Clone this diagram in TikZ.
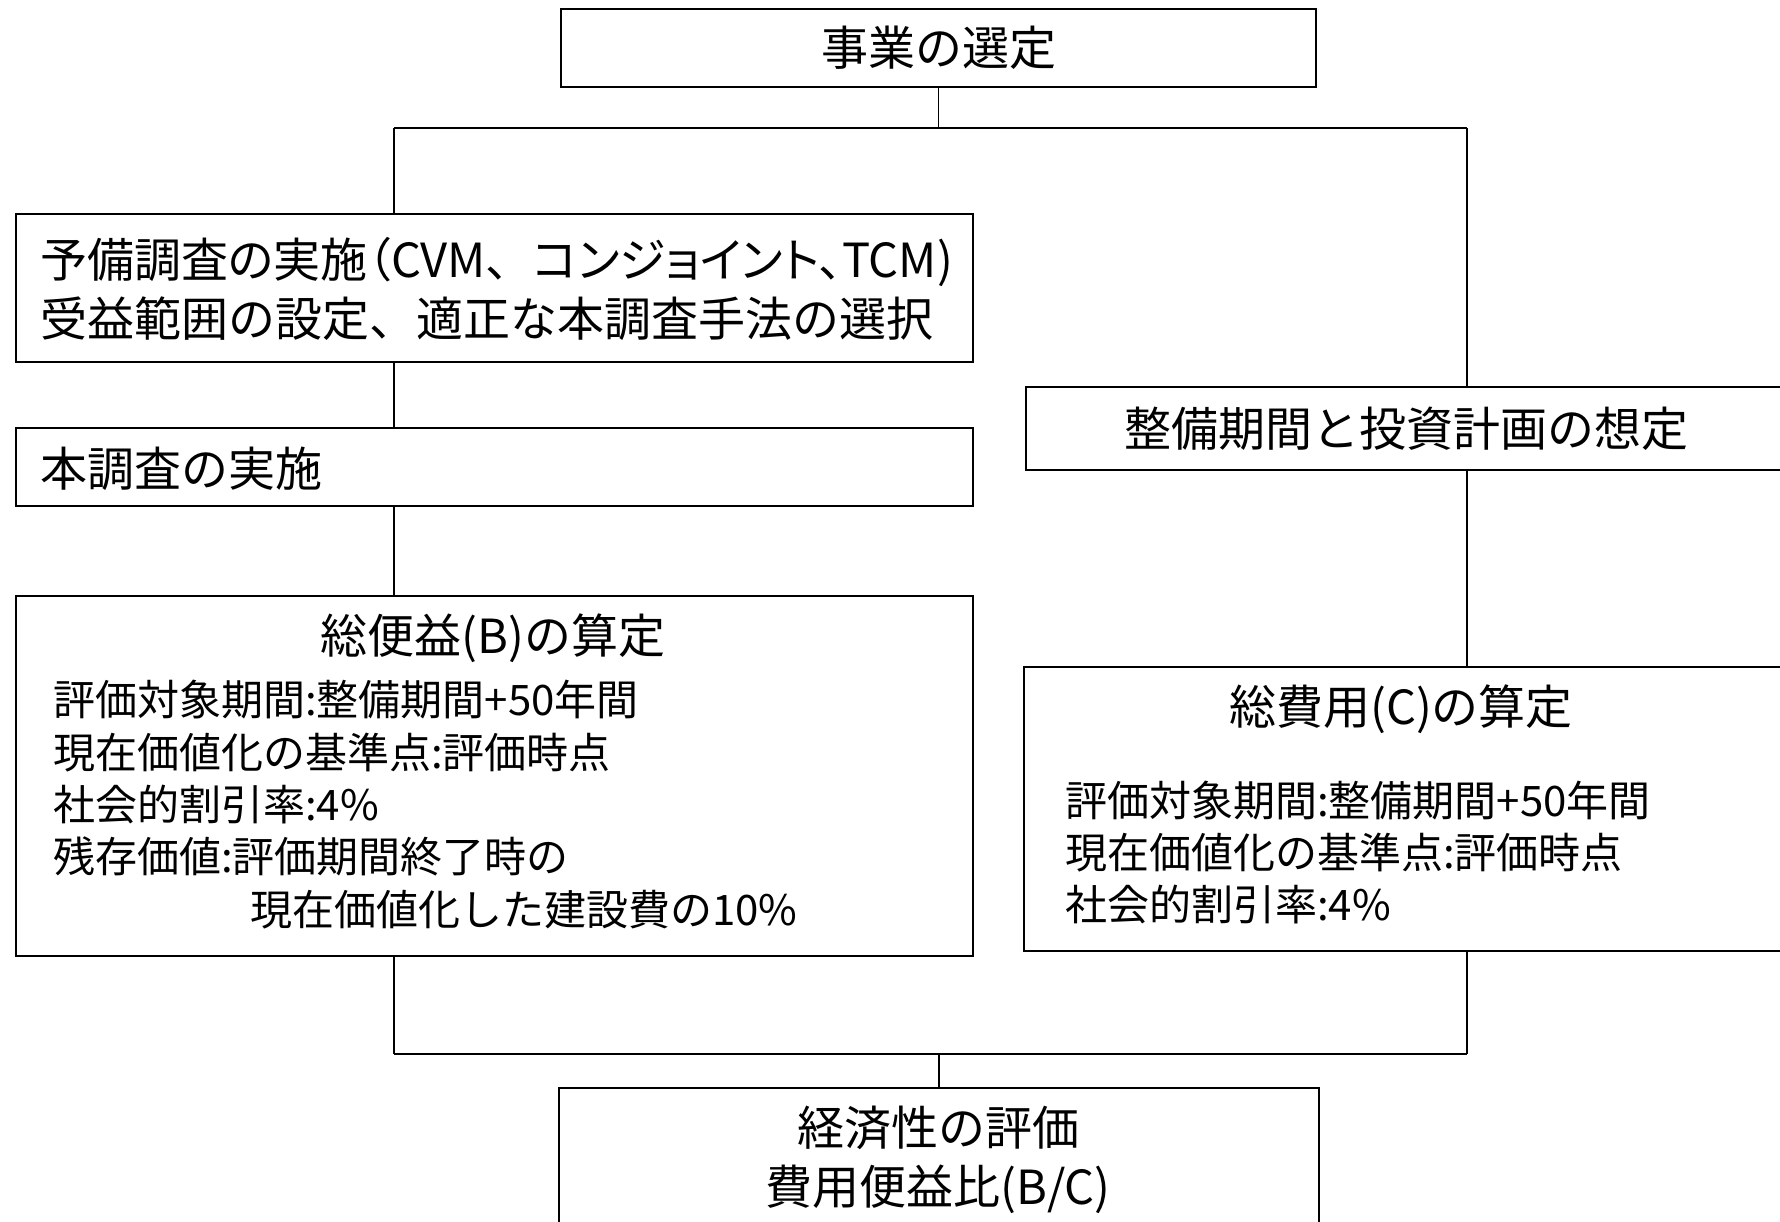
\documentclass[tikz,border=0pt]{standalone}
\usepackage{fontspec}
\setmainfont{Noto Sans CJK JP}
\newfontfamily\jpp[RawFeature=+palt]{Noto Sans CJK JP}
\begin{document}
\begin{tikzpicture}[x=1pt,y=-1pt,
  box/.style={draw=black,line width=2pt,fill=white,inner sep=0pt,anchor=north west},
  big/.style={font=\fontsize{47}{59}\selectfont,inner sep=0pt},
  body/.style={font=\fontsize{42}{52.3}\selectfont,inner sep=0pt,align=left,anchor=west},
  vline/.style={line width=1.4pt},
  hline/.style={line width=2.2pt}]
\useasboundingbox (0,0) rectangle (1780,1221);
\fill[white] (0,0) rectangle (1780,1221);
\begin{scope}
\clip (0,0) rectangle (1780,1221);
% junction coordinates
\coordinate (jl) at (394,128);
\coordinate (jr) at (1467,128);
\coordinate (bl) at (394,1054);
\coordinate (br) at (1467,1054);
% boxes
\node[box,minimum width=755,minimum height=78,big] (top) at (560,8) {事業の選定};
\node[box,minimum width=957,minimum height=148] (pre) at (15,213) {};
\node[box,minimum width=957,minimum height=78] (main) at (15,427) {};
\node[box,minimum width=760,minimum height=83,big] (plan) at (1025,386) {整備期間と投資計画の想定};
\node[box,minimum width=957,minimum height=360] (ben) at (15,595) {};
\node[box,minimum width=762,minimum height=284] (cost) at (1023,666) {};
\node[box,minimum width=760,minimum height=160] (eval) at (558,1087) {};
% texts
\node[big,align=left,anchor=west] (pretext) at (40,288.5) {{\jpp 予備調査の実施（CVM}、{\jpp コンジョイント、TCM)}\\受益範囲の設定、適正な本調査手法の選択};
\node[big,anchor=west] (maintext) at (40,469) {本調査の実施};
\node[big] (bentitle) at (493,638) {総便益(B)の算定};
\node[body] (bentext) at (53,804.5) {評価対象期間:整備期間+50年間\\現在価値化の基準点:評価時点\\社会的割引率:4\%\\残存価値:評価期間終了時の\\\hspace*{197pt}現在価値化した建設費の10\%};
\node[big] (costtitle) at (1401,709) {総費用(C)の算定};
\node[body] (costtext) at (1065,852.5) {評価対象期間:整備期間+50年間\\現在価値化の基準点:評価時点\\社会的割引率:4\%};
\node[big,align=center] (evaltext) at (938,1160) {経済性の評価\\費用便益比(B/C)};
% connectors
\draw[vline] (top.south) -- (top.south |- jl);
\draw[hline] (jl) -- (jr);
\draw[vline] (jl) -- (jl |- pre.north);
\draw[vline] (jl |- pre.south) -- (jl |- main.north);
\draw[vline] (jl |- main.south) -- (jl |- ben.north);
\draw[vline] (jr) -- (jr |- plan.north);
\draw[vline] (jr |- plan.south) -- (jr |- cost.north);
\draw[vline] (jl |- ben.south) -- (bl);
\draw[vline] (jr |- cost.south) -- (br);
\draw[hline] (bl) -- (br);
\draw[vline] (eval.north) -- (eval.north |- bl);
\end{scope}
\end{tikzpicture}
\end{document}
